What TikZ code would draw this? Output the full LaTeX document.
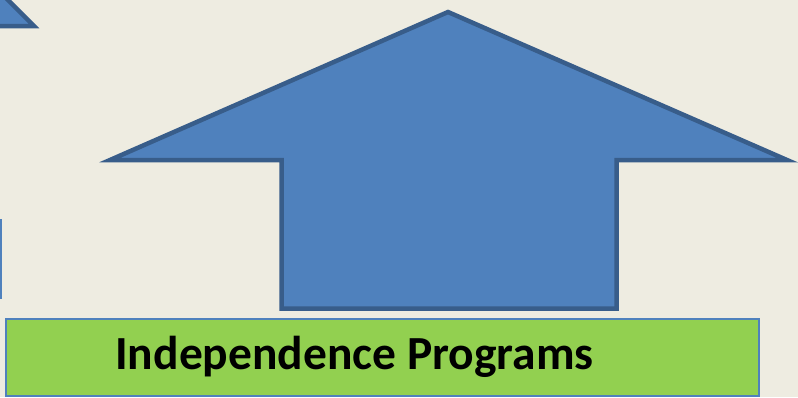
\documentclass[tikz,border=0pt]{standalone}
\usepackage{fontspec}
\setmainfont{Carlito}
\definecolor{bgbeige}{HTML}{EEECE1}
\definecolor{shapeblue}{HTML}{4F81BD}
\definecolor{edgeblue}{HTML}{385D8A}
\definecolor{leafgreen}{HTML}{92D050}
\tikzset{
  bluearrow/.style={fill=shapeblue, draw=edgeblue, line width=4.5pt, line join=miter},
  greenbar/.style={fill=leafgreen, draw=shapeblue, line width=2pt},
  barlabel/.style={font=\fontsize{47.5}{52}\selectfont\bfseries, text=black, inner sep=0pt, anchor=base}
}
\begin{document}
\begin{tikzpicture}[x=1pt, y=-1pt]
  % canvas
  \fill[bgbeige] (0,0) rectangle (798,397);
  \useasboundingbox (0,0) rectangle (798,397);
  \begin{scope}
    \clip (0,0) rectangle (798,397);
    % corner of a neighbouring shape, top left
    \draw[bluearrow] (-22,-30) -- (34,26) -- (-22,26) -- cycle;
    % edge of a neighbouring shape, left
    \fill[shapeblue] (-5,219) rectangle (2,299);
    % large upward arrow
    \draw[bluearrow] (448,12) -- (787,160) -- (616.5,160) -- (616.5,308.5)
      -- (281.5,308.5) -- (281.5,160) -- (110,160) -- cycle;
  \end{scope}
  % base bar with its label
  \node[greenbar, rectangle, minimum width=753pt, minimum height=77pt, anchor=north west]
    (bar) at (5,318) {};
  \node[barlabel] (label) at (354.5,369) {Independence Programs};
\end{tikzpicture}
\end{document}
